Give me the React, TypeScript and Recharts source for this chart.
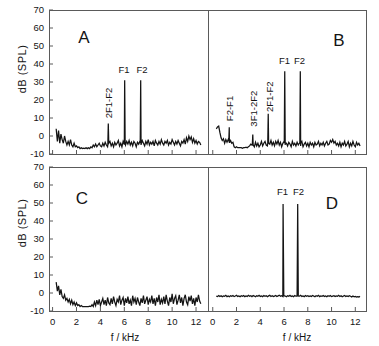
import React from 'react';
import { LineChart, Line, XAxis, YAxis, ReferenceArea } from 'recharts';

// frequency grid of the recorded spectra (kHz)
const FREQ = [
  0.3, 0.4, 0.5, 0.6, 0.7, 0.8, 0.9, 1.0, 1.1, 1.2,
  1.3, 1.4, 1.5, 1.6, 1.7, 1.8, 1.9, 2.0, 2.1, 2.2,
  2.3, 2.4, 2.5, 2.6, 2.7, 2.8, 2.9, 3.0, 3.1, 3.2,
  3.3, 3.4, 3.5, 3.6, 3.7, 3.8, 3.9, 4.0, 4.1, 4.2,
  4.3, 4.4, 4.5, 4.6, 4.7, 4.8, 4.9, 5.0, 5.1, 5.2,
  5.3, 5.4, 5.5, 5.6, 5.7, 5.8, 5.9, 6.0, 6.1, 6.2,
  6.3, 6.4, 6.5, 6.6, 6.7, 6.8, 6.9, 7.0, 7.1, 7.2,
  7.3, 7.4, 7.5, 7.6, 7.7, 7.8, 7.9, 8.0, 8.1, 8.2,
  8.3, 8.4, 8.5, 8.6, 8.7, 8.8, 8.9, 9.0, 9.1, 9.2,
  9.3, 9.4, 9.5, 9.6, 9.7, 9.8, 9.9, 10.0, 10.1, 10.2,
  10.3, 10.4, 10.5, 10.6, 10.7, 10.8, 10.9, 11.0, 11.1, 11.2,
  11.3, 11.4, 11.5, 11.6, 11.7, 11.8, 11.9, 12.0, 12.1, 12.2,
  12.3, 12.4,
];

// noise floor, dB SPL
const NOISE_A = [
  4, -3, 3, -4, 1, -2, -4, 0, -3, -5,
  -3, -5, -2, -5, -6, -4, -6, -5.5, -6.5, -6,
  -7, -6.5, -7, -6.8, -7, -6.5, -7, -6.5, -7, -6,
  -6.5, -5, -6, -4.5, -6, -5, -4, -5.5, -6, -4,
  -5.5, -3.5, -5, -6, -4, -3, -5.5, -4, -6, -3.5,
  -5, -4, -2.5, -5.5, -4, -6, -3, -4.5, -5, -3,
  -4.5, -2.5, -5, -3.5, -5.5, -3, -4, -6, -3.5, -4.5,
  -3, -5, -2.5, -4, -5.5, -3, -4.5, -2, -5, -3.5,
  -4.5, -3, -5.5, -2.5, -4, -5, -3, -4.5, -2, -4,
  -5, -3, -4, -2.5, -5, -3.5, -4.5, -2, -3.5, -5,
  -3, -4.5, -2.5, -4, -5.5, -3, -4, -2, -4.5, -1,
  -3, 0, -2, -0.5, -3.5, -1.5, -4, -2.5, -4.5, -3,
  -3.5, -5,
];

const NOISE_B = [
  4, 5, 5.5, 2, -1, -2.5, -1.5, -4, -2, -3.5,
  -2, -3.5, -2.5, -4, -3.5, -6, -6.5, -6, -6.5, -6.5,
  -6.5, -6.5, -6.8, -6.5, -6.5, -6.2, -6.5, -6, -5.5, -4.5,
  -5, -4.5, -6, -3.5, -5.5, -4, -6, -5, -3, -5.5,
  -4, -3, -5, -5.5, -3, -4.5, -2.5, -5, -3.5, -5.5,
  -3, -4.5, -2.5, -5, -3.5, -6, -4, -3, -5, -4,
  -5.5, -3.5, -4.5, -6, -3, -5, -4, -5.5, -3.5, -5,
  -4, -5.5, -3, -6, -4.5, -3.5, -5.5, -4, -6, -3.5,
  -5, -4, -6, -3.5, -5, -4.5, -3, -5.5, -4, -5,
  -3.5, -5.5, -4, -3, -5, -4.5, -2.5, -3.5, -2, -4,
  -3, -5, -4, -5.5, -3.5, -6, -4, -5, -3, -5.5,
  -4.5, -3, -6, -4, -5.5, -3, -5, -6, -3.5, -5,
  -4, -5.5,
];

const NOISE_C = [
  6, 1, 4, -1, 2, -2, -3, -1, -4, -3,
  -5, -3.5, -6, -4, -6.5, -5, -7, -5.5, -7, -6.5,
  -7.5, -7, -7.5, -7.5, -7.5, -7.5, -7.5, -7.5, -7.3, -7.5,
  -6.5, -7.5, -5, -7, -4, -6.5, -3.5, -7, -5, -3,
  -6.5, -4, -7, -2.5, -5.5, -6.5, -3, -6, -2, -5,
  -7, -3.5, -5, -1.5, -6.5, -4, -2.5, -7, -3, -5.5,
  -2, -6, -4, -7, -1.5, -5, -3, -6.5, -2.5, -5,
  -7, -3, -5.5, -1.5, -6, -4, -2, -6.5, -3.5, -5,
  -1.5, -6, -3, -7, -2.5, -5, -1, -6.5, -3.5, -5.5,
  -2, -6, -1, -4.5, -7, -2.5, -5, -0.5, -6, -3,
  -1.5, -6.5, -4, -1, -5.5, -2.5, -7, -3, -1, -5,
  -6.5, -2, -4.5, -1.5, -6, -3, -7, -2.5, -5, -1,
  -4.5, -6,
];

const NOISE_D = [
  -1.7, -2.0, -1.4, -1.9, -1.5, -2.1, -1.6, -1.8, -1.3, -2.0,
  -1.6, -2.1, -1.5, -1.8, -1.4, -2.0, -1.7, -1.3, -1.9, -1.6,
  -2.1, -1.5, -1.8, -1.4, -2.0, -1.6, -1.9, -1.3, -1.8, -1.5,
  -2.0, -1.4, -1.7, -2.1, -1.5, -1.8, -1.3, -1.9, -1.6, -2.0,
  -1.4, -1.8, -1.5, -2.1, -1.6, -1.3, -1.9, -1.5, -2.0, -1.7,
  -1.4, -1.9, -1.6, -1.2, -1.8, -1.5, -2.0, -1.4, -1.7, -2.1,
  -1.5, -1.8, -1.3, -1.9, -1.6, -2.1, -1.4, -1.8, -1.5, -2.0,
  -1.7, -1.3, -1.9, -1.6, -2.1, -1.4, -1.8, -1.5, -2.0, -1.6,
  -1.9, -1.4, -1.7, -2.1, -1.5, -1.8, -1.3, -2.0, -1.6, -1.8,
  -1.4, -1.9, -1.6, -2.1, -1.5, -1.8, -1.4, -2.0, -1.7, -1.5,
  -2.0, -1.6, -1.8, -1.3, -1.9, -1.5, -2.1, -1.7, -1.4, -1.9,
  -1.6, -2.0, -1.5, -1.8, -2.2, -1.7, -2.1, -1.9, -2.3, -2.0,
  -2.2, -1.9,
];

// distortion products and primaries (kHz, dB)
const SPIKE_F_A = [4.62, 4.66, 4.70, 5.99, 6.03, 6.07, 7.33, 7.37, 7.41];
const SPIKE_DB_A = [-5, 7, -4, -4.5, 31, -4, -4, 31, -4.5];

const SPIKE_F_B = [1.35, 1.39, 1.43, 3.33, 3.37, 3.41, 4.63, 4.67, 4.71, 6.02, 6.06, 6.10, 7.33, 7.37, 7.41];
const SPIKE_DB_B = [-3, 4.8, -3.5, -5, 0.8, -5, -4, 12.4, -4, -4, 36, -4, -4, 36, -4];

const SPIKE_F_D = [5.86, 5.92, 5.98, 7.09, 7.15, 7.21];
const SPIKE_DB_D = [-1.8, 49.5, -1.8, -1.8, 49.5, -1.8];

const X_TICKS = [0, 2, 4, 6, 8, 10, 12];
const Y_TICKS = [-10, 0, 10, 20, 30, 40, 50, 60, 70];

const FONT = '"Liberation Sans", Arial, Helvetica, sans-serif';
const INK = '#141414';
const FRAME = '#5a5a5a';

const buildSeries = (noise: number[], spikeF: number[] = [], spikeDb: number[] = []) => {
  const pts = FREQ.map((f, i) => ({ f, db: noise[i] }));
  spikeF.forEach((f, i) => pts.push({ f, db: spikeDb[i] }));
  return pts.sort((a, b) => a.f - b.f);
};

const XTick = ({ x, y, payload, showLabel }: any) => (
  <g>
    <line x1={x} y1={y} x2={x} y2={y - 4} stroke={FRAME} strokeWidth={1} />
    {showLabel && (
      <text x={x} y={y + 13.5} textAnchor="middle" fontSize={9.5} fill={INK} fontFamily={FONT}>
        {payload.value}
      </text>
    )}
  </g>
);

const YTick = ({ x, y, payload }: any) => (
  <g>
    <line x1={x} y1={y} x2={x + 4} y2={y} stroke={FRAME} strokeWidth={1} />
    <text x={x - 5} y={y + 3.3} textAnchor="end" fontSize={9.5} fill={INK} fontFamily={FONT}>
      {payload.value}
    </text>
  </g>
);

function Panel({ data, x, y, w, h, domain, leftAxis, bottomLabels }: any) {
  const padL = leftAxis ? 49 : 3;
  const padT = 6;
  const padR = 3;
  const padB = bottomLabels ? 35 : 4;

  return (
    <div style={{ position: 'absolute', left: x - padL, top: y - padT }}>
      <LineChart
        width={padL + w + padR}
        height={padT + h + padB}
        data={data}
        margin={{ top: padT, right: padR, bottom: 0, left: leftAxis ? 0 : padL }}
      >
        <XAxis
          dataKey="f"
          type="number"
          domain={domain}
          ticks={X_TICKS}
          interval={0}
          height={padB}
          axisLine={false}
          tickLine={false}
          tickSize={0}
          tickMargin={0}
          tick={(p: any) => <XTick {...p} showLabel={bottomLabels} />}
        />
        <YAxis
          type="number"
          domain={[-10, 70]}
          ticks={Y_TICKS}
          interval={0}
          width={padL}
          hide={!leftAxis}
          axisLine={false}
          tickLine={false}
          tickSize={0}
          tickMargin={0}
          tick={(p: any) => <YTick {...p} />}
        />
        <ReferenceArea
          x1={domain[0]}
          x2={domain[1]}
          y1={-10}
          y2={70}
          fill="none"
          fillOpacity={0}
          stroke={FRAME}
          strokeWidth={1}
          shapeRendering="crispEdges"
        />
        <Line
          type="linear"
          dataKey="db"
          stroke={INK}
          strokeWidth={1.25}
          dot={false}
          activeDot={false}
          isAnimationActive={false}
        />
      </LineChart>
    </div>
  );
}

const txt = { fontFamily: FONT, fill: INK } as const;

export default function App() {
  const left: [number, number] = [-0.3, 13.0];
  const right: [number, number] = [-0.4, 12.9];

  return (
    <div style={{ position: 'absolute', left: 0, top: 0, width: 379, height: 346, background: '#fff', overflow: 'hidden' }}>
      <Panel data={buildSeries(NOISE_A, SPIKE_F_A, SPIKE_DB_A)} x={49} y={10} w={159} h={144} domain={left} leftAxis />
      <Panel data={buildSeries(NOISE_B, SPIKE_F_B, SPIKE_DB_B)} x={208} y={10} w={158} h={144} domain={right} />
      <Panel data={buildSeries(NOISE_C)} x={49} y={167} w={159} h={144} domain={left} leftAxis bottomLabels />
      <Panel data={buildSeries(NOISE_D, SPIKE_F_D, SPIKE_DB_D)} x={208} y={167} w={158} h={144} domain={right} bottomLabels />

      <svg width={379} height={346} style={{ position: 'absolute', left: 0, top: 0, pointerEvents: 'none' }}>
        {/* panel letters */}
        <text x={84} y={43} textAnchor="middle" fontSize={17} {...txt}>A</text>
        <text x={339} y={46} textAnchor="middle" fontSize={17} {...txt}>B</text>
        <text x={82} y={204} textAnchor="middle" fontSize={17} {...txt}>C</text>
        <text x={332} y={209} textAnchor="middle" fontSize={17} {...txt}>D</text>

        {/* axis titles */}
        <text transform="translate(26,69) rotate(-90)" textAnchor="middle" fontSize={11} letterSpacing={0.5} {...txt}>dB (SPL)</text>
        <text transform="translate(26,223) rotate(-90)" textAnchor="middle" fontSize={11} letterSpacing={0.5} {...txt}>dB (SPL)</text>
        <text x={125} y={340.5} textAnchor="middle" fontSize={10} {...txt}>f / kHz</text>
        <text x={297} y={340.5} textAnchor="middle" fontSize={10} {...txt}>f / kHz</text>

        {/* peak labels A */}
        <text x={124} y={72.5} textAnchor="middle" fontSize={9.5} {...txt}>F1</text>
        <text x={142} y={72.5} textAnchor="middle" fontSize={9.5} {...txt}>F2</text>
        <text transform="translate(111.5,103) rotate(-90)" textAnchor="middle" fontSize={9.5} {...txt}>2F1-F2</text>

        {/* peak labels B */}
        <text x={284.5} y={63.5} textAnchor="middle" fontSize={9.5} {...txt}>F1</text>
        <text x={299.5} y={63.5} textAnchor="middle" fontSize={9.5} {...txt}>F2</text>
        <text transform="translate(232.5,108.5) rotate(-90)" textAnchor="middle" fontSize={9.5} {...txt}>F2-F1</text>
        <text transform="translate(256.8,108.7) rotate(-90)" textAnchor="middle" fontSize={9.5} {...txt}>3F1-2F2</text>
        <text transform="translate(272.5,96.7) rotate(-90)" textAnchor="middle" fontSize={9.5} {...txt}>2F1-F2</text>

        {/* peak labels D */}
        <text x={282.5} y={195} textAnchor="middle" fontSize={9.5} {...txt}>F1</text>
        <text x={298.5} y={195} textAnchor="middle" fontSize={9.5} {...txt}>F2</text>
      </svg>
    </div>
  );
}
